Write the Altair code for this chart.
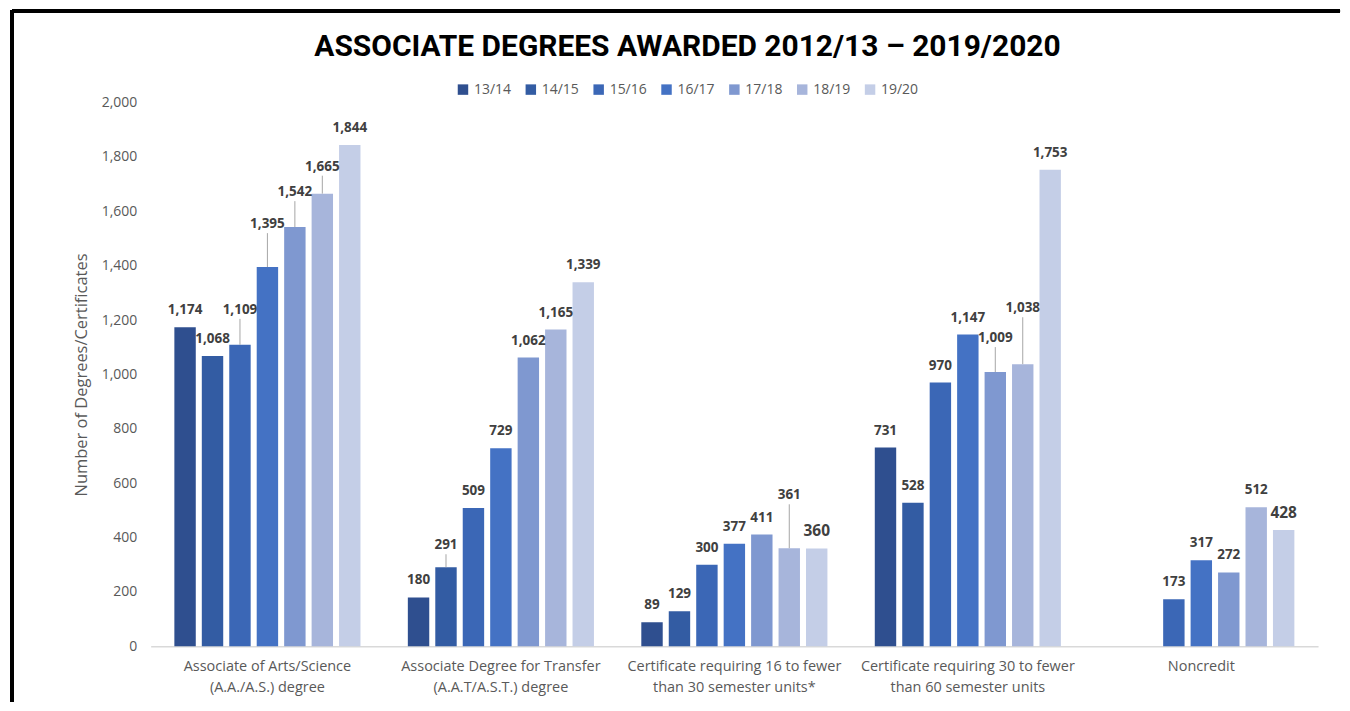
import altair as alt
import pandas as pd

categories = [
    "Associate of Arts/Science|(A.A./A.S.) degree",
    "Associate Degree for Transfer|(A.A.T/A.S.T.) degree",
    "Certificate requiring 16 to fewer|than 30 semester units*",
    "Certificate requiring 30 to fewer|than 60 semester units",
    "Noncredit",
]
years = ["13/14", "14/15", "15/16", "16/17", "17/18", "18/19", "19/20"]
v_13_14 = [1174, 180, 89, 731, None]
v_14_15 = [1068, 291, 129, 528, None]
v_15_16 = [1109, 509, 300, 970, 173]
v_16_17 = [1395, 729, 377, 1147, 317]
v_17_18 = [1542, 1062, 411, 1009, 272]
v_18_19 = [1665, 1165, 361, 1038, 512]
v_19_20 = [1844, 1339, 360, 1753, 428]
series = [v_13_14, v_14_15, v_15_16, v_16_17, v_17_18, v_18_19, v_19_20]
colors = ["#2F4F8F", "#335CA3", "#3B67B6", "#4472C4", "#7F98D0", "#A7B5DB", "#C4CEE7"]
title_text = "ASSOCIATE DEGREES AWARDED 2012/13 \u2013 2019/2020"

# extra lift (pixels) for labels that sit on leader lines in the original
label_lift = {(0, "15/16"): 18, (0, "16/17"): 26, (0, "17/18"): 18, (0, "18/19"): 10,
              (1, "14/15"): 5, (2, "18/19"): 36, (3, "17/18"): 17, (3, "18/19"): 39}
big_labels = {(2, "19/20"), (4, "19/20")}

W, H = 1170, 545
YMAX = 2000
k = YMAX / H

rows = []
for yi, y in enumerate(years):
    for ci, c in enumerate(categories):
        v = series[yi][ci]
        if v is None:
            continue
        lift = label_lift.get((ci, y), 0)
        rows.append({
            "category": c, "year": y, "value": v,
            "lab": v + lift * k,
            "lead": (v + (lift + 8) * k) if lift else None,
            "text": f"{v:,}",
            "fs": 15.5 if (ci, y) in big_labels else 13.5,
        })
df = pd.DataFrame(rows)

font = "Open Sans"
xenc = alt.X("category:N", sort=categories, title=None,
             scale=alt.Scale(paddingInner=0.177, paddingOuter=0.0885),
             axis=alt.Axis(labelExpr="split(datum.label, '|')", labelAngle=0,
                           labelFontSize=14.5, labelColor="#595959", labelFont=font,
                           labelPadding=13, labelLineHeight=21, ticks=False,
                           domainColor="#D9D9D9", domainWidth=1.5, labelLimit=300))
xoff = alt.XOffset("year:N", sort=years,
                   scale=alt.Scale(domain=years, paddingInner=0.22, paddingOuter=0.11))

base = alt.Chart(df)

bars = base.mark_bar().encode(
    x=xenc,
    xOffset=xoff,
    y=alt.Y("value:Q", scale=alt.Scale(domain=[0, YMAX]),
            title="Number of Degrees/Certificates",
            axis=alt.Axis(values=list(range(0, 2001, 200)), format=",.0f", grid=False,
                          ticks=False, domain=False, labelFontSize=14,
                          labelColor="#595959", labelFont=font, labelPadding=14,
                          titleFont=font, titleFontSize=16.5, titleFontWeight="normal",
                          titleColor="#595959", titlePadding=12)),
    color=alt.Color("year:N", sort=years,
                    scale=alt.Scale(domain=years, range=colors),
                    legend=alt.Legend(title=None, orient="none", direction="horizontal",
                                      legendX=306, legendY=-20, symbolType="square",
                                      symbolSize=110, symbolStrokeWidth=0,
                                      labelFontSize=14, labelColor="#595959",
                                      labelFont=font, columnPadding=12, labelOffset=4)),
)

leaders = base.transform_filter("datum.lead != null").mark_rule(
    color="#A6A6A6", strokeWidth=1
).encode(x=xenc, xOffset=xoff, y="value:Q", y2="lead:Q")

labels = base.mark_text(
    font=font, fontWeight="bold", color="#404040", baseline="middle", dy=-17
).encode(x=xenc, xOffset=xoff, y="lab:Q", text="text:N",
         size=alt.Size("fs:Q", scale=None, legend=None))

title = alt.Chart(pd.DataFrame({"t": [title_text]})).mark_text(
    font="Roboto", fontSize=30, fontWeight="bold", color="black", baseline="middle"
).encode(x=alt.value(W / 2 - 47), y=alt.value(-56), text="t:N")

frame_top = alt.Chart(df).mark_rule(color="black", strokeWidth=3).encode(
    x=alt.value(-139), x2=alt.value(W + 22), y=alt.value(-92))
frame_left = alt.Chart(df).mark_rule(color="black", strokeWidth=3).encode(
    x=alt.value(-139), y=alt.value(-92), y2=alt.value(H + 55))

chart = alt.layer(bars, leaders, labels, title, frame_top, frame_left).properties(
    width=W, height=H, background="white",
    padding={"left": 2, "top": 0, "right": 0, "bottom": 0},
).configure_view(strokeWidth=0, stroke=None)

chart.save("out.html", embed_options={"renderer": "svg", "actions": False})
